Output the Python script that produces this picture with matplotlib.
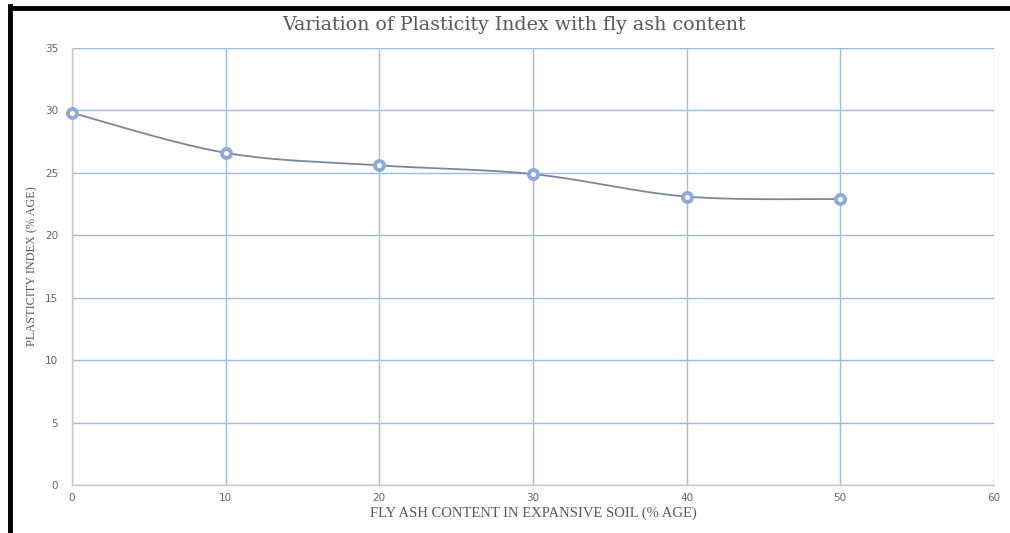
import numpy as np
import matplotlib.pyplot as plt
from matplotlib.lines import Line2D

# fly ash content (%) and measured plasticity index (%)
fly_ash = [0, 10, 20, 30, 40, 50]
plasticity_index = [29.8, 26.6, 25.6, 24.9, 23.1, 22.9]

x_ticks = [0, 10, 20, 30, 40, 50, 60]
y_ticks = [0, 5, 10, 15, 20, 25, 30, 35]


def smooth_curve(xs, ys, n=40, tension=0.5):
    # cardinal spline through the points, like a spreadsheet "smoothed line"
    xs = np.asarray(xs, float)
    ys = np.asarray(ys, float)
    px = np.concatenate([[xs[0]], xs, [xs[-1]]])
    py = np.concatenate([[ys[0]], ys, [ys[-1]]])
    out_x, out_y = [], []
    t = np.linspace(0, 1, n)
    h1 = 2 * t**3 - 3 * t**2 + 1
    h2 = -2 * t**3 + 3 * t**2
    h3 = t**3 - 2 * t**2 + t
    h4 = t**3 - t**2
    for i in range(1, len(px) - 2):
        mx0 = tension * (px[i + 1] - px[i - 1])
        my0 = tension * (py[i + 1] - py[i - 1])
        mx1 = tension * (px[i + 2] - px[i])
        my1 = tension * (py[i + 2] - py[i])
        out_x.append(h1 * px[i] + h2 * px[i + 1] + h3 * mx0 + h4 * mx1)
        out_y.append(h1 * py[i] + h2 * py[i + 1] + h3 * my0 + h4 * my1)
    return np.concatenate(out_x), np.concatenate(out_y)


fig = plt.figure(figsize=(10.10, 5.33), dpi=100)
ax = fig.add_axes([0.0713, 0.090, 0.9127, 0.820])

grid_col = '#9dbbe4'
ax.set_xlim(0, 60)
ax.set_ylim(0, 35)
ax.set_xticks(x_ticks)
ax.set_yticks(y_ticks)
ax.grid(True, color=grid_col, linewidth=1.0)
ax.set_axisbelow(True)

for side in ['top', 'right']:
    ax.spines[side].set_visible(False)
for side in ['left', 'bottom']:
    ax.spines[side].set_color('#c8c8c8')
    ax.spines[side].set_linewidth(1.0)

ax.tick_params(length=0, labelsize=7.5, labelcolor='#666666', pad=6)
ax.tick_params(axis='y', pad=10)

sx, sy = smooth_curve(fly_ash, plasticity_index)
ax.plot(sx, sy, color='#7a889c', linewidth=1.3, zorder=3, clip_on=False)
ax.plot(fly_ash, plasticity_index, linestyle='none', marker='o', markersize=6.5,
        markerfacecolor='white', markeredgecolor='#8eaadb', markeredgewidth=2.8,
        zorder=4, clip_on=False)

fig.text(0.509, 0.953, 'Variation of Plasticity Index with fly ash content',
         family='DejaVu Serif', fontsize=13.7, color='#595959',
         ha='center', va='center')
ax.set_xlabel('FLY ASH CONTENT IN EXPANSIVE SOIL (% AGE)',
              family='Liberation Serif', fontsize=10.5, color='#595959', labelpad=2)
ax.set_ylabel('PLASTICITY INDEX (% AGE)',
              family='Liberation Serif', fontsize=8.8, color='#595959', labelpad=5)

# black frame along the top and left edges
fig.add_artist(Line2D([0.0095, 1.0], [0.9850, 0.9850], color='black', linewidth=3.5,
                      transform=fig.transFigure))
fig.add_artist(Line2D([0.0099, 0.0099], [0.0, 0.9880], color='black', linewidth=3.5,
                      transform=fig.transFigure))

fig.savefig('out.png', dpi=100)
